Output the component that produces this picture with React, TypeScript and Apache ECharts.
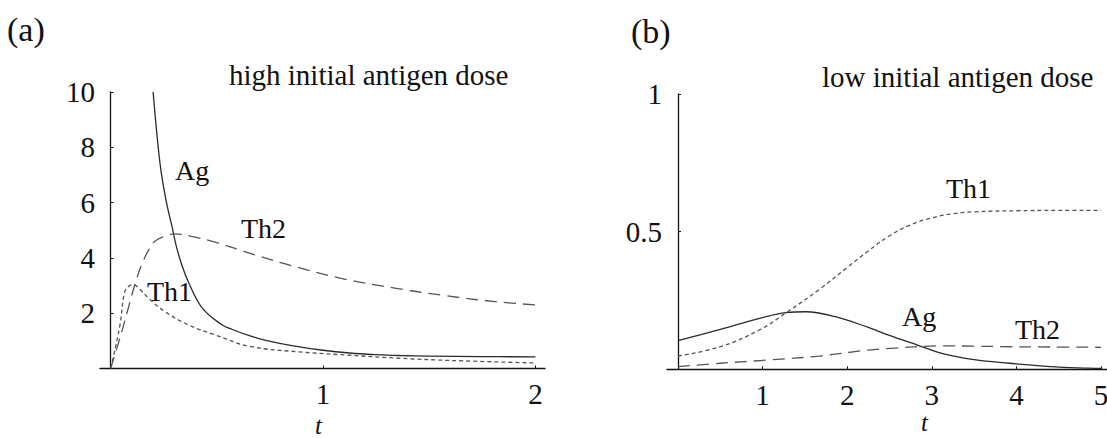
import React, { useEffect, useRef } from "react";
import * as echarts from "echarts";

// Panel (a): high initial antigen dose
const hiAgT = [0.2, 0.224, 0.24, 0.263, 0.287, 0.31, 0.335, 0.365, 0.43, 0.52, 0.57, 0.66, 0.73, 0.86, 1.0, 1.125, 1.25, 1.36, 1.5, 1.75, 2.0];
const hiAg = [10, 8, 7, 6, 5.2, 4.4, 3.75, 3.15, 2.2, 1.6, 1.42, 1.17, 1.02, 0.82, 0.66, 0.56, 0.5, 0.47, 0.45, 0.43, 0.42];
const hiTh1T = [0, 0.012, 0.044, 0.067, 0.09, 0.106, 0.14, 0.177, 0.255, 0.365, 0.49, 0.655, 0.89, 1.125, 1.36, 1.6, 2.0];
const hiTh1 = [0, 0.38, 1.58, 2.79, 3.0, 3.03, 2.85, 2.55, 2.06, 1.58, 1.22, 0.8, 0.6, 0.48, 0.37, 0.29, 0.2];
const hiTh2T = [0, 0.04, 0.083, 0.114, 0.146, 0.18, 0.208, 0.263, 0.3, 0.38, 0.5, 0.63, 0.81, 1.08, 1.337, 1.57, 1.81, 2.0];
const hiTh2 = [0, 1.0, 2.18, 3.03, 3.75, 4.3, 4.6, 4.81, 4.87, 4.78, 4.55, 4.23, 3.81, 3.27, 2.91, 2.64, 2.42, 2.3];

// Panel (b): low initial antigen dose
const loAgT = [0, 0.5, 0.965, 1.28, 1.51, 1.86, 2.25, 2.48, 2.83, 3.14, 3.5, 3.92, 4.4, 4.85, 5.0];
const loAg = [0.104, 0.145, 0.185, 0.206, 0.209, 0.191, 0.152, 0.125, 0.088, 0.056, 0.035, 0.022, 0.01, 0.004, 0.003];
const loTh1T = [0, 0.5, 0.965, 1.28, 1.67, 2.0, 2.25, 2.5, 2.75, 3.0, 3.25, 3.5, 4.0, 4.5, 5.0];
const loTh1 = [0.048, 0.082, 0.143, 0.206, 0.29, 0.37, 0.43, 0.485, 0.525, 0.55, 0.565, 0.572, 0.576, 0.577, 0.577];
const loTh2T = [0, 0.5, 1.08, 1.67, 2.25, 2.56, 3.14, 3.5, 3.92, 4.4, 5.0];
const loTh2 = [0.01, 0.022, 0.034, 0.048, 0.07, 0.077, 0.085, 0.084, 0.082, 0.081, 0.08];

const hiXTicks = [1, 2];
const hiYTicks = [2, 4, 6, 8, 10];
const loXTicks = [1, 2, 3, 4, 5];
const loYTicks = [0.5, 1];

const FONT = "'Liberation Serif', 'Times New Roman', serif";

const zip = (t: number[], v: number[]) => t.map((x, i) => [x, v[i]]);

function axisX(grid: number, min: number, max: number, ticks: number[], withName: boolean) {
  return {
    gridIndex: grid,
    type: "value",
    min,
    max,
    name: withName ? "t" : "",
    nameLocation: "middle",
    nameGap: 36,
    nameTextStyle: { fontFamily: FONT, fontStyle: "italic", fontSize: 25, lineHeight: 22, color: "#111", padding: [0, 8, 0, 0] },
    axisLine: { show: true, lineStyle: { color: "#111", width: 1.3 } },
    axisTick: { show: true, inside: true, length: 3, customValues: ticks, lineStyle: { color: "#111" } },
    axisLabel: { customValues: ticks, fontFamily: FONT, fontSize: 29, color: "#111", margin: 11 },
    splitLine: { show: false },
  };
}

function axisY(grid: number, min: number, max: number, ticks: number[]) {
  return {
    gridIndex: grid,
    type: "value",
    min,
    max,
    axisLine: { show: true, onZero: true, lineStyle: { color: "#111", width: 1.3 } },
    axisTick: { show: true, inside: true, length: 3, customValues: ticks, lineStyle: { color: "#111" } },
    axisLabel: { customValues: ticks, fontFamily: FONT, fontSize: 29, color: "#111", margin: 5 },
    splitLine: { show: false },
  };
}

function line(name: string, xi: number, data: number[][], type: any, color: string) {
  return {
    name,
    type: "line",
    xAxisIndex: xi,
    yAxisIndex: xi,
    data,
    symbol: "none",
    smooth: 0.4,
    lineStyle: { color, width: 1.3, type },
    z: 3,
  };
}

function label(text: string, left: number, top: number, size = 28, italic = false) {
  return {
    type: "text",
    left,
    top,
    style: { text, font: `${italic ? "italic " : ""}${size}px ${FONT}`, fill: "#111", lineHeight: italic ? 22 : undefined },
  };
}

export default function App() {
  const ref = useRef<HTMLDivElement>(null);
  useEffect(() => {
    if (!ref.current) return;
    const chart = echarts.init(ref.current, null, { renderer: "svg" });
    chart.setOption({
      animation: false,
      backgroundColor: "#fff",
      grid: [
        { left: 100, top: 92, width: 445, height: 276.5, outerBoundsMode: "none", containLabel: false },
        { left: 667, top: 94, width: 440, height: 275.3, outerBoundsMode: "none", containLabel: false },
      ],
      xAxis: [axisX(0, -0.05, 2.045, hiXTicks, true), axisX(1, -0.13, 5.07, loXTicks, false)],
      yAxis: [axisY(0, 0, 10, hiYTicks), axisY(1, 0, 1, loYTicks)],
      series: [
        line("Ag", 0, zip(hiAgT, hiAg), "solid", "#2a2a2a"),
        line("Th1", 0, zip(hiTh1T, hiTh1), [4, 3], "#555"),
        line("Th2", 0, zip(hiTh2T, hiTh2), [12, 7], "#555"),
        line("Ag", 1, zip(loAgT, loAg), "solid", "#2a2a2a"),
        line("Th1", 1, zip(loTh1T, loTh1), [4, 3], "#555"),
        line("Th2", 1, zip(loTh2T, loTh2), [12, 7], "#555"),
      ],
      graphic: [
        label("(a)", 7, 12, 34),
        label("(b)", 631, 14, 34),
        label("high initial antigen dose", 229, 60, 29),
        label("low initial antigen dose", 822, 62, 29),
        label("Ag", 175, 156, 28),
        label("Th2", 241, 214, 28),
        label("Th1", 147, 277, 28),
        label("Th1", 946, 174, 28),
        label("Ag", 902, 302, 28),
        label("Th2", 1015, 315, 28),
        label("t", 921, 410, 25, true),
      ],
    });
    return () => chart.dispose();
  }, []);
  return <div ref={ref} style={{ position: "fixed", left: 0, top: 0, width: 1107, height: 438 }} />;
}
